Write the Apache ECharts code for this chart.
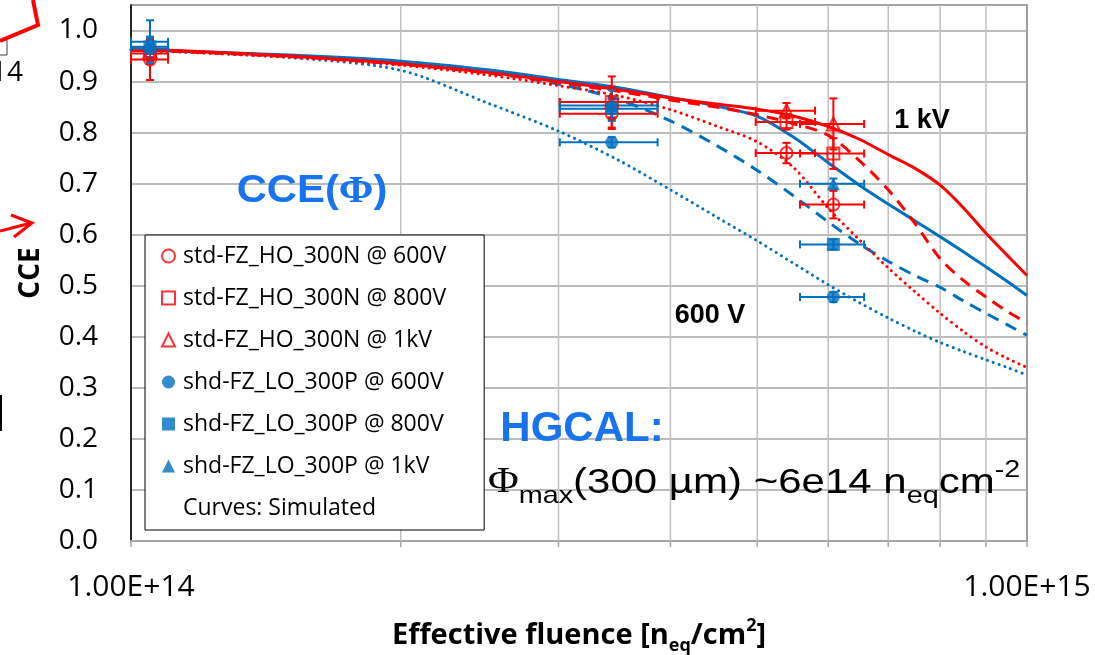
<!DOCTYPE html>
<html><head><meta charset="utf-8">
<script src="https://cdn.jsdelivr.net/npm/echarts@6/dist/echarts.min.js"></script>
<style>html,body{margin:0;padding:0;background:#fff}#c{width:1095px;height:655px}</style>
</head><body><div id="c"></div>
<script>
const RED = '#FF0000', BLUE = '#0070C0', TBLUE = '#1873F0';

// axis ticks
const xTickLabels = ['1.00E+14', '1.00E+15'];
const minorGrid = [2e14, 3e14, 4e14, 5e14, 6e14, 7e14, 8e14, 9e14];

// measured points: std-FZ_HO_300N
const stdFluence    = [1.05e14, 3.44e14, 5.39e14, 6.08e14];
const stdFluenceErr = [0.05e14, 0.43e14, 0.41e14, 0.50e14];
const std600    = [0.943, 0.837, 0.760, 0.659];
const std600Err = [0.040, 0.030, 0.020, 0.027];
const std800    = [0.955, 0.860, 0.821, 0.759];
const std800Err = [0.020, 0.050, 0.015, 0.030];
const std1k     = [0.960, 0.860, 0.843, 0.817];
const std1kErr  = [0.020, 0.030, 0.015, 0.050];

// measured points: shd-FZ_LO_300P
const shdFluence    = [1.05e14, 3.44e14, 6.08e14];
const shdFluenceErr = [0.05e14, 0.43e14, 0.50e14];
const shd600    = [0.965, 0.781, 0.478];
const shd600Err = [0.020, 0.010, 0.010];
const shd800    = [0.968, 0.847, 0.581];
const shd800Err = [0.020, 0.020, 0.010];
const shd1k     = [0.978, 0.853, 0.700];
const shd1kErr  = [0.042, 0.030, 0.010];

// simulated curves
const simFluence = [1e14, 1.5e14, 2e14, 2.5e14, 3e14, 3.5e14, 4e14, 4.5e14, 5e14, 5.5e14, 6e14, 6.5e14, 7e14, 7.5e14, 8e14, 8.5e14, 9e14, 9.5e14, 1e15];
const simStd1k  = [0.965, 0.950, 0.935, 0.918, 0.900, 0.884, 0.868, 0.856, 0.846, 0.832, 0.812, 0.787, 0.757, 0.730, 0.697, 0.652, 0.603, 0.560, 0.520];
const simStd800 = [0.963, 0.949, 0.934, 0.917, 0.898, 0.881, 0.864, 0.850, 0.835, 0.817, 0.795, 0.745, 0.688, 0.622, 0.553, 0.510, 0.478, 0.450, 0.427];
const simStd600 = [0.962, 0.948, 0.932, 0.913, 0.892, 0.872, 0.845, 0.813, 0.782, 0.730, 0.652, 0.590, 0.535, 0.488, 0.446, 0.410, 0.380, 0.358, 0.340];
const simShd1k  = [0.963, 0.952, 0.940, 0.923, 0.904, 0.888, 0.869, 0.852, 0.832, 0.790, 0.741, 0.697, 0.660, 0.627, 0.596, 0.566, 0.537, 0.509, 0.481];
const simShd800 = [0.963, 0.950, 0.937, 0.918, 0.895, 0.865, 0.823, 0.775, 0.726, 0.675, 0.625, 0.582, 0.548, 0.520, 0.497, 0.470, 0.446, 0.424, 0.403];
const simShd600 = [0.962, 0.947, 0.922, 0.858, 0.803, 0.746, 0.688, 0.635, 0.588, 0.543, 0.502, 0.467, 0.437, 0.411, 0.389, 0.371, 0.355, 0.340, 0.325];

const names = ['std-FZ_HO_300N @ 600V', 'std-FZ_HO_300N @ 800V', 'std-FZ_HO_300N @ 1kV',
               'shd-FZ_LO_300P @ 600V', 'shd-FZ_LO_300P @ 800V', 'shd-FZ_LO_300P @ 1kV'];
const CURVES = 'Curves: Simulated';

const pts = (xs, ys) => xs.map((x, i) => [x, ys[i]]);
const errPts = (xs, ys, dx, dy) => xs.map((x, i) => [x, ys[i], dx[i], dy[i]]);

function errSeries(color, data) {
  return {
    type: 'custom', z: 4, clip: false, silent: true,
    encode: { x: 0, y: 1 },
    data: data,
    renderItem: function (params, api) {
      const x = api.value(0), y = api.value(1), dx = api.value(2), dy = api.value(3);
      const l = api.coord([x - dx, y]), r = api.coord([x + dx, y]);
      const t = api.coord([x, y + dy]), b = api.coord([x, y - dy]);
      const cap = 4;
      const st = { stroke: color, lineWidth: 2 };
      const ln = (x1, y1, x2, y2) => ({ type: 'line', shape: { x1, y1, x2, y2 }, style: st });
      return { type: 'group', children: [
        ln(l[0], l[1], r[0], r[1]),
        ln(l[0], l[1] - cap, l[0], l[1] + cap),
        ln(r[0], r[1] - cap, r[0], r[1] + cap),
        ln(t[0], t[1], b[0], b[1]),
        ln(t[0] - cap, t[1], t[0] + cap, t[1]),
        ln(b[0] - cap, b[1], b[0] + cap, b[1])
      ]};
    }
  };
}

function curve(data, color, type) {
  let lt;
  if (type === 'dotted') lt = { color, width: 3, type: [0.1, 6], cap: 'round' };
  else if (type === 'dashed') lt = { color, width: 3, type: [12, 8] };
  else lt = { color, width: 3, type: 'solid' };
  return { name: CURVES, type: 'line', z: 2, smooth: 0.3, showSymbol: false, symbol: 'none',
    data: pts(simFluence, data), lineStyle: lt, itemStyle: { color }, silent: true };
}

function scatter(name, xs, ys, symbol, size, hollow, color) {
  return { name, type: 'scatter', z: 5, symbol, symbolSize: size, data: pts(xs, ys),
    itemStyle: hollow ? { color: 'rgba(255,255,255,0)', borderColor: color, borderWidth: 2 } : { color } };
}

const chart = echarts.init(document.getElementById('c'), null, { renderer: 'canvas' });
const FONT = '"Open Sans", sans-serif';

chart.setOption({
  animation: false,
  backgroundColor: '#fff',
  grid: { left: 131, right: 68, top: 5, bottom: 114, show: true, borderColor: '#7F7F7F', borderWidth: 1.5,
    backgroundColor: 'transparent', containLabel: false, outerBoundsMode: 'none' },
  xAxis: {
    type: 'log', logBase: 10, min: 1e14, max: 1e15,
    name: '{a|Effective fluence [n}{s|eq}{a|/cm}{p|2}{a|]}',
    nameLocation: 'middle', nameGap: 76,
    nameTextStyle: { rich: {
      a: { fontFamily: FONT, fontWeight: 'bold', fontSize: 29, lineHeight: 38, color: '#000' },
      s: { fontFamily: FONT, fontWeight: 'bold', fontSize: 18, lineHeight: 18, verticalAlign: 'bottom', color: '#000' },
      p: { fontFamily: FONT, fontWeight: 'bold', fontSize: 18, lineHeight: 30, verticalAlign: 'top', color: '#000' }
    }},
    axisLine: { show: true, lineStyle: { color: '#A6A6A6', width: 2 } },
    axisTick: { show: true, length: 6, lineStyle: { color: '#A6A6A6', width: 1.5 } },
    splitLine: { show: false },
    minorTick: { show: false }, minorSplitLine: { show: false },
    axisLabel: { fontFamily: FONT, fontSize: 30, color: '#000', margin: 31,
      formatter: v => xTickLabels[Math.round(Math.log10(v)) - 14] || '' }
  },
  yAxis: {
    type: 'value', min: 0, max: 1.05, interval: 0.1,
    name: 'CCE', nameLocation: 'middle', nameGap: 86, nameRotate: 90,
    nameTextStyle: { fontFamily: FONT, fontWeight: 'bold', fontSize: 28, color: '#000' },
    axisLine: { show: true, lineStyle: { color: '#000', width: 1.5 } },
    axisTick: { show: false },
    splitLine: { show: true, lineStyle: { color: '#A6A6A6', width: 1.5 } },
    axisLabel: { fontFamily: FONT, fontSize: 28, color: '#000', margin: 33,
      formatter: v => (Math.abs(v * 10 - Math.round(v * 10)) < 1e-6 ? v.toFixed(1) : '') }
  },
  legend: {
    orient: 'vertical', left: 145, top: 235,
    data: names.map(n => ({ name: n })).concat([{ name: CURVES, icon: 'none' }]),
    itemWidth: 13, itemHeight: 13, itemGap: 14,
    padding: [7, 38, 8, 16],
    backgroundColor: '#fff', borderColor: '#000', borderWidth: 1, borderRadius: 0,
    selectedMode: false,
    textStyle: { fontFamily: FONT, fontSize: 23, color: '#000', lineHeight: 28, padding: [0, 0, 0, 3] }
  },
  graphic: [
    // fragments of neighbouring slide content at the left edge
    { type: 'polyline', shape: { points: [[0, 41], [38, 25], [33, 0]] }, style: { stroke: RED, lineWidth: 4, fill: null } },
    { type: 'polyline', shape: { points: [[0, 55], [7, 55], [7, 40]] }, style: { stroke: '#404040', lineWidth: 1, fill: null } },
    { type: 'text', x: 23, y: 73, style: { text: '1.00E+14', font: '28px "Open Sans"', fill: '#000', align: 'right', verticalAlign: 'middle', textAlign: 'right', textVerticalAlign: 'middle' } },
    { type: 'polyline', shape: { points: [[0, 231], [31, 223]] }, style: { stroke: RED, lineWidth: 3, fill: null } },
    { type: 'polyline', shape: { points: [[11, 215], [32, 223], [14, 237]] }, style: { stroke: RED, lineWidth: 3, fill: null } },
    { type: 'line', shape: { x1: 1, y1: 395, x2: 1, y2: 431 }, style: { stroke: '#000', lineWidth: 2 } },
    // annotations
    { type: 'text', x: 312, y: 192, scaleX: 1.1, originX: 0, originY: 0, z: 10,
      style: { text: '{a|CCE(}{p|Φ}{a|)}', align: 'center', verticalAlign: 'middle', textAlign: 'center', textVerticalAlign: 'middle',
        rich: { a: { fontFamily: 'Liberation Sans', fontWeight: 'bold', fontSize: 38, fill: TBLUE, lineHeight: 44 },
                p: { fontFamily: 'Liberation Serif', fontWeight: 'bold', fontSize: 38, fill: TBLUE, lineHeight: 44 } } } },
    { type: 'text', x: 582, y: 429, z: 10,
      style: { text: 'HGCAL:', font: 'bold 42px "Liberation Sans"', fill: TBLUE, align: 'center', verticalAlign: 'middle', textAlign: 'center', textVerticalAlign: 'middle' } },
    { type: 'text', x: 922, y: 121, z: 10,
      style: { text: '1 kV', font: 'bold 27px "Liberation Sans"', fill: '#000', align: 'center', verticalAlign: 'middle', textAlign: 'center', textVerticalAlign: 'middle' } },
    { type: 'text', x: 710, y: 316, z: 10,
      style: { text: '600 V', font: 'bold 27px "Liberation Sans"', fill: '#000', align: 'center', verticalAlign: 'middle', textAlign: 'center', textVerticalAlign: 'middle' } },
    { type: 'text', x: 488, y: 483, scaleX: 1.2, originX: 0, originY: 0, z: 10,
      style: { text: '{f|Φ}{s|max}{a|(300 µm) ~6e14 n}{s|eq}{a|cm}{p|-2}', align: 'left', verticalAlign: 'middle', textAlign: 'left', textVerticalAlign: 'middle',
        rich: {
          f: { fontFamily: 'Liberation Serif', fontSize: 35, fill: '#000', lineHeight: 50 },
          a: { fontFamily: 'Liberation Sans', fontSize: 35, fill: '#000', lineHeight: 50 },
          s: { fontFamily: 'Liberation Sans', fontSize: 24, fill: '#000', lineHeight: 24, verticalAlign: 'bottom' },
          p: { fontFamily: 'Liberation Sans', fontSize: 24, fill: '#000', lineHeight: 30, verticalAlign: 'top' }
        } } }
  ],
  series: [
    {
      type: 'custom', z: 1, clip: false, silent: true, encode: { x: 0, y: 1 },
      data: minorGrid.map(v => [v, 0]),
      renderItem: function (params, api) {
        const v = api.value(0);
        const b = api.coord([v, 0]), t = api.coord([v, 1.05]);
        return { type: 'group', children: [
          { type: 'line', shape: { x1: b[0], y1: b[1], x2: t[0], y2: t[1] }, style: { stroke: '#BFBFBF', lineWidth: 1.5 } },
          { type: 'line', shape: { x1: b[0], y1: b[1], x2: b[0], y2: b[1] + 6 }, style: { stroke: '#A6A6A6', lineWidth: 1.5 } }
        ]};
      }
    },
    curve(simShd600, BLUE, 'dotted'),
    curve(simShd800, BLUE, 'dashed'),
    curve(simShd1k, BLUE, 'solid'),
    curve(simStd600, RED, 'dotted'),
    curve(simStd800, RED, 'dashed'),
    curve(simStd1k, RED, 'solid'),
    errSeries(RED, errPts(stdFluence, std600, stdFluenceErr, std600Err)),
    errSeries(RED, errPts(stdFluence, std800, stdFluenceErr, std800Err)),
    errSeries(RED, errPts(stdFluence, std1k, stdFluenceErr, std1kErr)),
    errSeries(BLUE, errPts(shdFluence, shd600, shdFluenceErr, shd600Err)),
    errSeries(BLUE, errPts(shdFluence, shd800, shdFluenceErr, shd800Err)),
    errSeries(BLUE, errPts(shdFluence, shd1k, shdFluenceErr, shd1kErr)),
    scatter(names[0], stdFluence, std600, 'circle', 12, true, RED),
    scatter(names[1], stdFluence, std800, 'rect', 12, true, RED),
    scatter(names[2], stdFluence, std1k, 'triangle', 13, true, RED),
    scatter(names[3], shdFluence, shd600, 'circle', 13, false, BLUE),
    scatter(names[4], shdFluence, shd800, 'rect', 13, false, BLUE),
    scatter(names[5], shdFluence, shd1k, 'triangle', 13, false, BLUE)
  ]
});
</script>
</body></html>
